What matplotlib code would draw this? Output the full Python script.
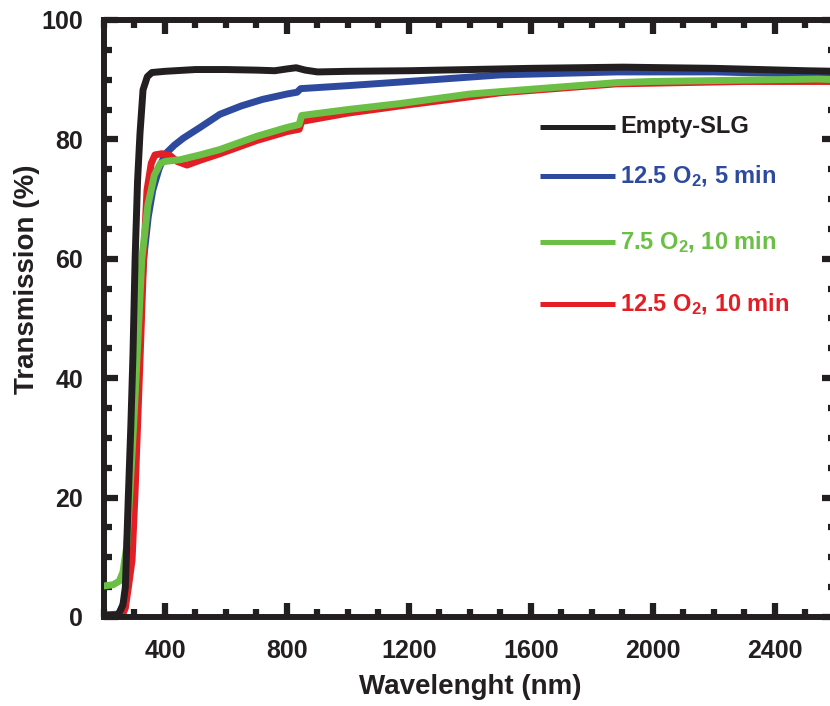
import matplotlib.pyplot as plt
import numpy as np
from matplotlib.ticker import MultipleLocator

# transmission spectra (wavelength in nm, transmission in %)
wl_slg = [200, 246, 262, 270, 279, 288, 295, 302, 310, 318, 328, 342, 357, 400, 500, 600, 700,
          760, 800, 830, 860, 900, 1000, 1200, 1400, 1600, 1900, 2200, 2500, 2600]
t_slg = [0.3, 0.3, 2, 5, 19, 32, 44, 60, 73, 81, 88.3, 90.5, 91.2, 91.4, 91.7, 91.7, 91.6,
         91.5, 91.8, 92.0, 91.6, 91.3, 91.4, 91.5, 91.7, 91.9, 92.1, 91.9, 91.5, 91.4]

wl_b = [200, 250, 270, 290, 305, 320, 330, 345, 360, 380, 400, 430, 460, 515, 580, 650, 720,
        800, 833, 845, 1000, 1170, 1500, 1880, 2200, 2540, 2600]
t_b = [0.3, 0.5, 3, 15, 35, 52, 60, 67, 71.5, 75, 77.5, 79, 80.2, 82, 84.2, 85.6, 86.7,
       87.6, 87.9, 88.5, 89, 89.6, 90.8, 91.3, 91.3, 90.9, 91]

wl_g = [200, 230, 250, 262, 275, 285, 297, 308, 324, 344, 365, 385, 400, 450, 515, 580, 700,
        800, 840, 848, 1000, 1170, 1400, 1600, 1880, 2000, 2540, 2600]
t_g = [5.2, 5.4, 6, 7.5, 12, 21, 32, 43, 60, 69, 74, 76, 76.3, 76.6, 77.4, 78.3, 80.5,
       82, 82.5, 84, 85, 86, 87.6, 88.4, 89.5, 89.7, 90.1, 90]

wl_r = [200, 260, 270, 280, 292, 302, 318, 330, 341, 355, 367, 390, 416, 440, 472, 515, 580,
        700, 800, 840, 848, 1000, 1170, 1500, 1880, 2300, 2600]
t_r = [0.2, 0.3, 1.5, 5, 9.5, 21, 43, 60, 71.5, 76, 77.4, 77.6, 77.3, 76.3, 75.7, 76.5, 77.6,
       79.8, 81.3, 81.7, 83, 84.4, 85.6, 87.8, 89.3, 89.7, 89.7]

labels = ["Empty-SLG", "12.5 O$_\\mathbf{2}$, 5 min", "7.5 O$_\\mathbf{2}$, 10 min", "12.5 O$_\\mathbf{2}$, 10 min"]
colors = ["#231F20", "#2E4A9E", "#6CBF45", "#E31E24"]
# legend rows (transmission level of each entry)
legend_y = [82.1, 73.9, 62.8, 52.4]

plt.rcParams['font.family'] = ['Liberation Sans', 'DejaVu Sans']
plt.rcParams['font.weight'] = 'bold'
plt.rcParams['mathtext.fontset'] = 'custom'
plt.rcParams['mathtext.rm'] = 'Liberation Sans:bold'
plt.rcParams['mathtext.bf'] = 'Liberation Sans:bold'
plt.rcParams['mathtext.default'] = 'bf'

fig = plt.figure(figsize=(8.3, 7.06), dpi=100)
ax = fig.add_axes([0.1253, 0.1261, 0.8819, 0.8456])

lw = 5
ax.plot(wl_slg, t_slg, color=colors[0], lw=lw, solid_joinstyle='round', zorder=3)
ax.plot(wl_b, t_b, color=colors[1], lw=lw, zorder=2)
ax.plot(wl_r, t_r, color=colors[3], lw=lw, zorder=2.5)
ax.plot(wl_g, t_g, color=colors[2], lw=lw, zorder=2.7)

# hand-placed legend
for lab, c, yy in zip(labels, colors, legend_y):
    ax.plot([1630, 1875], [yy, yy], color=c, lw=3.6, solid_capstyle='butt')
    ax.text(1892, yy, lab, color=c, fontsize=17, fontweight='bold', va='center', ha='left')

ax.set_xlim(200, 2600)
ax.set_ylim(0, 100)
ax.xaxis.set_major_locator(MultipleLocator(400))
ax.xaxis.set_minor_locator(MultipleLocator(100))
ax.yaxis.set_major_locator(MultipleLocator(20))
ax.yaxis.set_minor_locator(MultipleLocator(5))

ink = "#231F20"
for s in ax.spines.values():
    s.set_linewidth(4.3)
    s.set_color(ink)
ax.tick_params(which='both', direction='in', top=True, right=True, width=4.5, color=ink,
               labelsize=18, labelcolor=ink)
ax.tick_params(which='major', length=10)
ax.tick_params(which='minor', length=5.8)
ax.tick_params(axis='x', which='major', pad=16)
ax.tick_params(axis='y', which='major', pad=15)

ax.set_xlabel("Wavelenght (nm)", fontsize=20, fontweight='bold', color=ink, labelpad=8)
ax.set_ylabel("Transmission (%)", fontsize=20, fontweight='bold', color=ink)
ax.yaxis.set_label_coords(-0.088, 0.565)

fig.savefig("out.png", dpi=100)
